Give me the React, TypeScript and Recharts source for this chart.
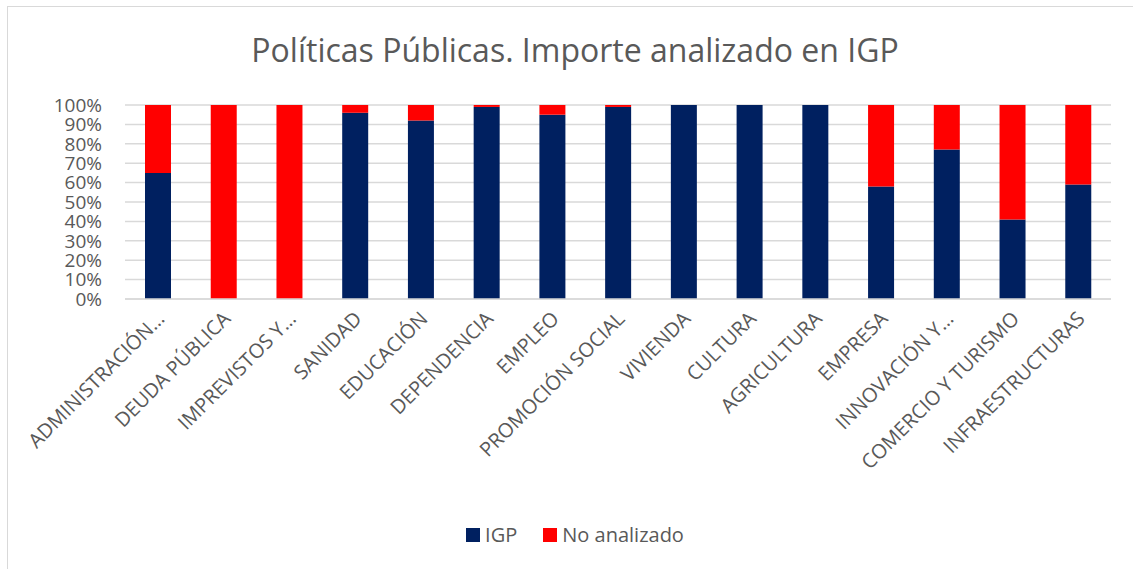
import React from "react";
import { BarChart, Bar, XAxis, YAxis, CartesianGrid, Legend } from "recharts";

const categories = [
  "ADMINISTRACIÓN…",
  "DEUDA PÚBLICA",
  "IMPREVISTOS Y…",
  "SANIDAD",
  "EDUCACIÓN",
  "DEPENDENCIA",
  "EMPLEO",
  "PROMOCIÓN SOCIAL",
  "VIVIENDA",
  "CULTURA",
  "AGRICULTURA",
  "EMPRESA",
  "INNOVACIÓN Y…",
  "COMERCIO Y TURISMO",
  "INFRAESTRUCTURAS",
];
const igp = [65, 0, 0, 96, 92, 99, 95, 99, 100, 100, 100, 58, 77, 41, 59];
const noAnalizado = [35, 100, 100, 4, 8, 1, 5, 1, 0, 0, 0, 42, 23, 59, 41];
const yTicks = [0, 10, 20, 30, 40, 50, 60, 70, 80, 90, 100];

const data = categories.map((c, i) => ({ name: c, igp: igp[i], no: noAnalizado[i] }));

const FONT = "'Open Sans', sans-serif";
const GRAY = "#595959";

const XTick = (props: any) => {
  const { x, y, payload } = props;
  return (
    <g transform={`translate(${x + 8},${y + 13})`}>
      <text
        x={0}
        y={0}
        textAnchor="end"
        transform="rotate(-45)"
        fill={GRAY}
        fontSize={20}
        fontFamily={FONT}
      >
        {payload.value}
      </text>
    </g>
  );
};

const LegendContent = () => (
  <div style={{ display: "flex", justifyContent: "center", gap: 26, fontFamily: FONT, fontSize: 20, color: GRAY }}>
    {[
      { label: "IGP", color: "#002060" },
      { label: "No analizado", color: "#FF0000" },
    ].map((it) => (
      <div key={it.label} style={{ display: "flex", alignItems: "center", gap: 5 }}>
        <span style={{ display: "inline-block", width: 14, height: 14, background: it.color }} />
        <span>{it.label}</span>
      </div>
    ))}
  </div>
);

export default function App() {
  return (
    <div style={{ position: "absolute", left: 0, top: 0, width: 1133, height: 569, background: "#fff", overflow: "hidden" }}>
      <div
        style={{
          position: "absolute",
          left: 7,
          top: 6,
          width: 1140,
          height: 580,
          border: "1.5px solid #d9d9d9",
          boxSizing: "border-box",
        }}
      />
      <div
        style={{
          position: "absolute",
          left: 0,
          top: 28,
          width: 1150,
          textAlign: "center",
          fontFamily: FONT,
          fontSize: 32,
          color: GRAY,
        }}
      >
        Políticas Públicas. Importe analizado en IGP
      </div>
      <div style={{ position: "absolute", left: 0, top: 0 }}>
        <BarChart
          width={1133}
          height={569}
          data={data}
          margin={{ top: 105, right: 22, bottom: 0, left: 0 }}
          barSize={26}
        >
          <CartesianGrid vertical={false} stroke="#d9d9d9" strokeWidth={1.5} />
          <XAxis
            dataKey="name"
            interval={0}
            height={270}
            tick={<XTick />}
            tickLine={false}
            axisLine={{ stroke: "#d9d9d9", strokeWidth: 1.5 }}
          />
          <YAxis
            width={125}
            domain={[0, 100]}
            ticks={yTicks}
            interval={0}
            tickFormatter={(v: number) => `${v}%`}
            tickLine={false}
            axisLine={false}
            tickSize={0}
            tickMargin={23}
            tick={{ fill: GRAY, fontSize: 19, fontFamily: FONT }}
          />
          <Legend
            layout="horizontal"
            verticalAlign="middle"
            align="center"
            wrapperStyle={{ top: 521, left: 0, width: 1150 }}
            content={<LegendContent />}
          />
          <Bar dataKey="igp" stackId="a" fill="#002060" isAnimationActive={false} />
          <Bar dataKey="no" stackId="a" fill="#FF0000" isAnimationActive={false} />
        </BarChart>
      </div>
    </div>
  );
}
